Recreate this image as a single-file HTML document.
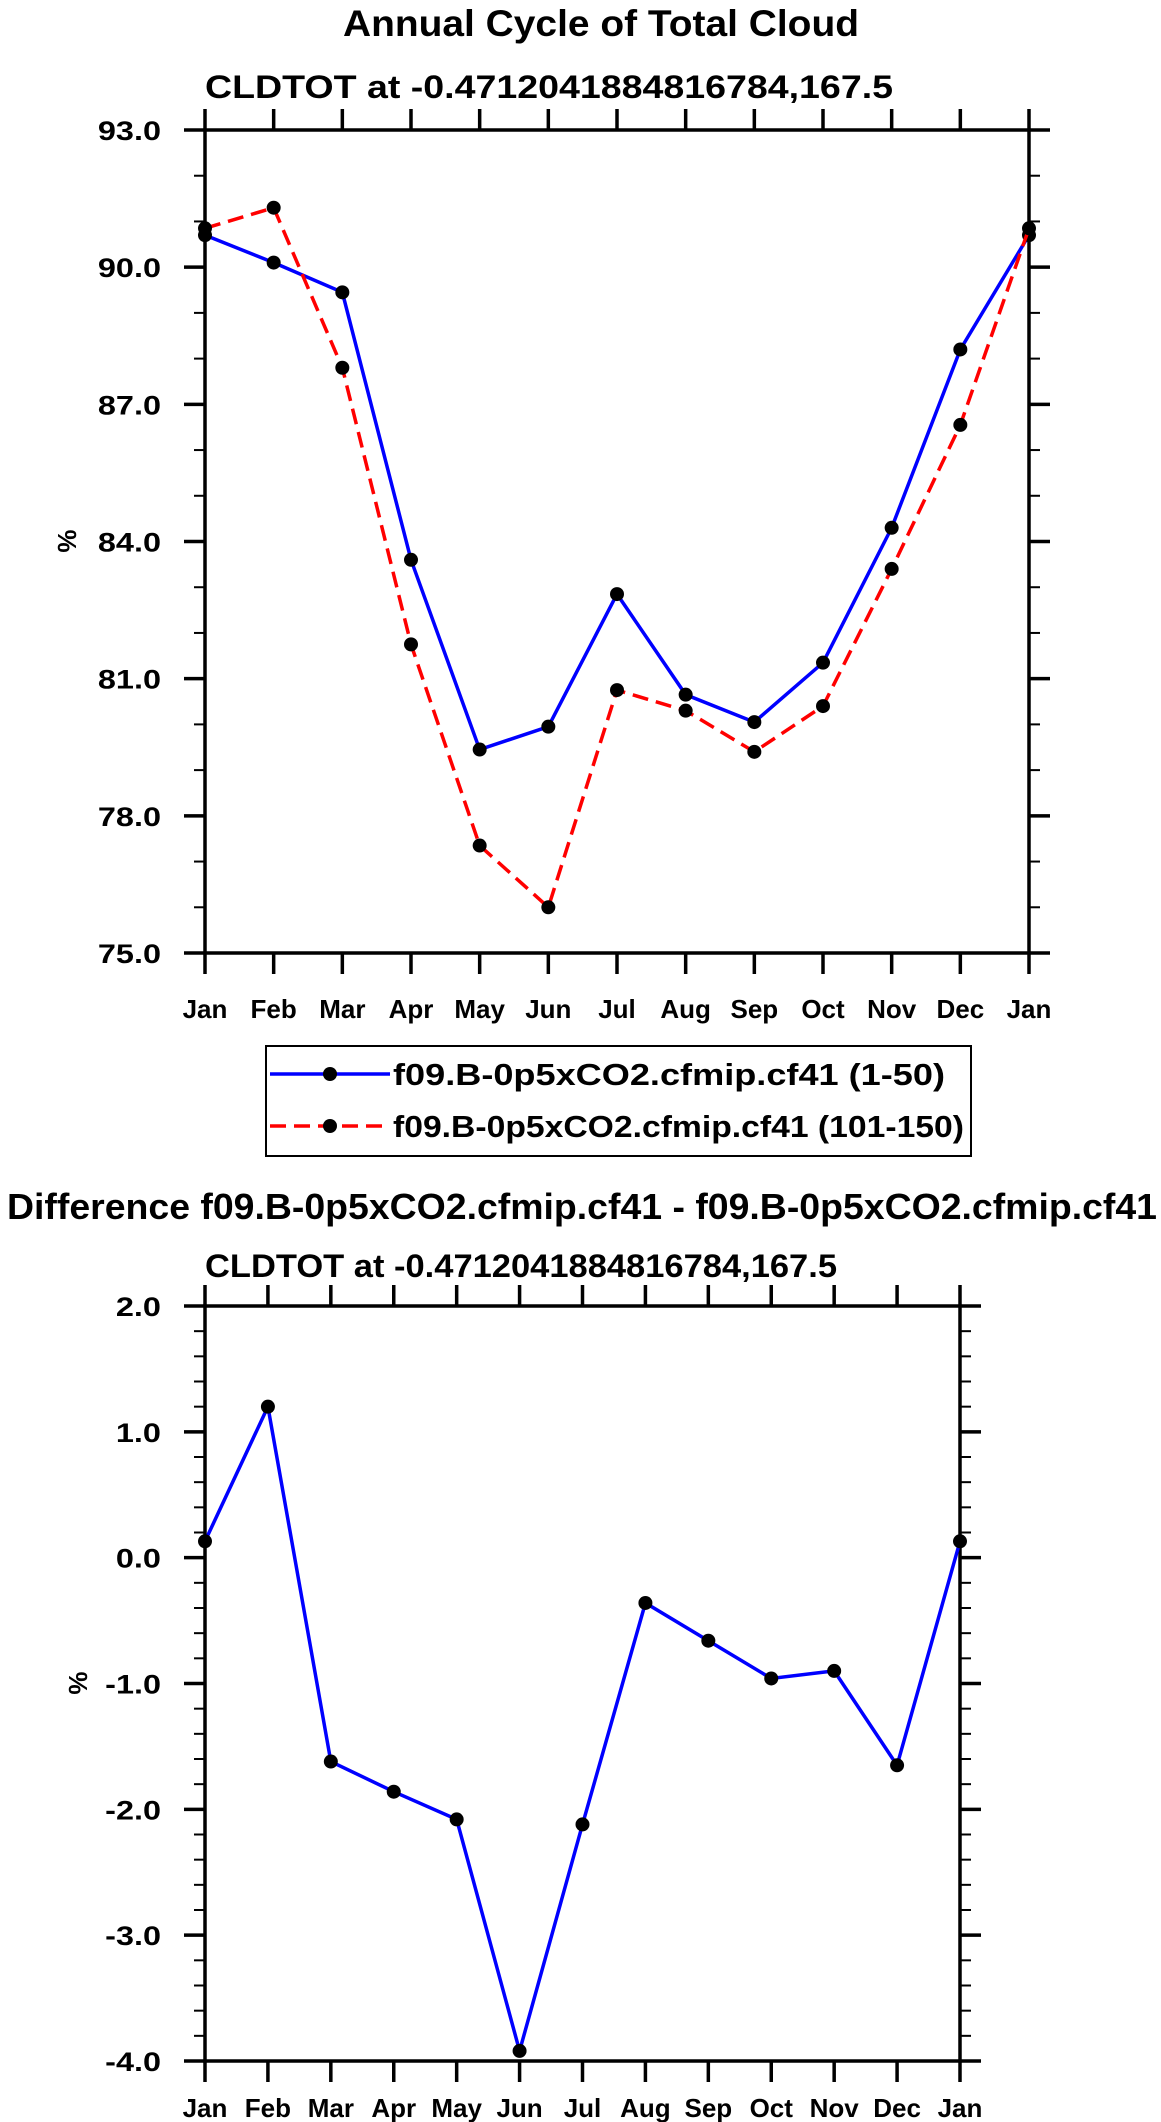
<!DOCTYPE html>
<html><head><meta charset="utf-8">
<style>
html,body{margin:0;padding:0;background:#fff;}
svg{display:block;font-family:"Liberation Sans",sans-serif;font-weight:bold;}
</style></head>
<body>
<svg id="svg" width="1161" height="2122" viewBox="0 0 1161 2122" xmlns="http://www.w3.org/2000/svg">
<text x="601" y="36" font-size="37" text-anchor="middle" textLength="516" lengthAdjust="spacingAndGlyphs">Annual Cycle of Total Cloud</text>
<text x="205" y="98" font-size="32" textLength="688" lengthAdjust="spacingAndGlyphs">CLDTOT at -0.4712041884816784,167.5</text>
<text transform="translate(76,541) rotate(-90)" font-size="26" text-anchor="middle">%</text>
<g id="top"></g>
<g>
<rect x="266" y="1046" width="705" height="110" fill="none" stroke="#000" stroke-width="2"/>
<g>
<line x1="270" y1="1074" x2="390" y2="1074" stroke="#0000ff" stroke-width="3.5"/>
<circle cx="330" cy="1074" r="7" fill="#000"/>
<text x="393" y="1085" font-size="31" textLength="552" lengthAdjust="spacingAndGlyphs">f09.B-0p5xCO2.cfmip.cf41 (1-50)</text>
</g>
<g>
<line x1="270" y1="1126" x2="390" y2="1126" stroke="#ff0000" stroke-width="3.5" stroke-dasharray="16,8"/>
<circle cx="330" cy="1126" r="7" fill="#000"/>
<text x="393" y="1137" font-size="31" textLength="571" lengthAdjust="spacingAndGlyphs">f09.B-0p5xCO2.cfmip.cf41 (101-150)</text>
</g>
</g>
<text x="7" y="1219" font-size="36" textLength="1150" lengthAdjust="spacingAndGlyphs">Difference f09.B-0p5xCO2.cfmip.cf41 - f09.B-0p5xCO2.cfmip.cf41</text>
<text x="205" y="1277" font-size="32" textLength="632" lengthAdjust="spacingAndGlyphs">CLDTOT at -0.4712041884816784,167.5</text>
<text transform="translate(87,1683) rotate(-90)" font-size="26" text-anchor="middle">%</text>
<g id="bot"></g>
</svg>
<script>
const months = ["Jan","Feb","Mar","Apr","May","Jun","Jul","Aug","Sep","Oct","Nov","Dec","Jan"];
const seriesA = [90.7,90.1,89.45,83.6,79.45,79.95,82.85,80.65,80.05,81.35,84.3,88.2,90.7];
const seriesB = [90.85,91.3,87.8,81.75,77.35,76.0,80.75,80.3,79.4,80.4,83.4,86.55,90.85];
const seriesDiff = [0.13,1.2,-1.62,-1.86,-2.08,-3.92,-2.12,-0.36,-0.66,-0.96,-0.9,-1.65,0.13];
const topTicks = ["75.0","78.0","81.0","84.0","87.0","90.0","93.0"];
const botTicks = ["-4.0","-3.0","-2.0","-1.0","0.0","1.0","2.0"];
const NS="http://www.w3.org/2000/svg";
function mk(p,t,a){const e=document.createElementNS(NS,t);for(const k in a)e.setAttribute(k,a[k]);p.appendChild(e);return e;}
function stretch(el,f){const w=el.getComputedTextLength();el.setAttribute("textLength",(w*f).toFixed(1));el.setAttribute("lengthAdjust","spacingAndGlyphs");}
function chart(g,cfg){
  const {L,R,T,B,ymin,ymax,ticks,minor,series}=cfg;
  const xs=i=>L+(R-L)*i/(months.length-1);
  const ys=v=>B-(B-T)*(v-ymin)/(ymax-ymin);
  const frame=mk(g,"rect",{x:L,y:T,width:R-L,height:B-T,fill:"none",stroke:"#000","stroke-width":3.5});
  
  
  for(let v=ymin;v<=ymax+1e-9;v+=minor){
    const y=ys(v);const maj=ticks.some(t=>Math.abs(parseFloat(t)-v)<1e-6);
    const len=maj?21:11;
    mk(g,"line",{x1:L-len,y1:y,x2:L,y2:y,stroke:"#000","stroke-width":maj?3.5:2});
    mk(g,"line",{x1:R,y1:y,x2:R+len,y2:y,stroke:"#000","stroke-width":maj?3.5:2});
  }
  ticks.forEach(t=>{
    const tx=mk(g,"text",{x:L-44,y:ys(parseFloat(t))+10,"font-size":27,"text-anchor":"end"});
    tx.textContent=t;
    
    
    stretch(tx,1.2);
  });
  months.forEach((m,i)=>{
    const x=xs(i);
    mk(g,"line",{x1:x,y1:B,x2:x,y2:B+21,stroke:"#000","stroke-width":3.5});
    mk(g,"line",{x1:x,y1:T-21,x2:x,y2:T,stroke:"#000","stroke-width":3.5});
    const tx=mk(g,"text",{x:x,y:cfg.labY,"font-size":26,"text-anchor":"middle"});
    tx.textContent=m;
    
    
  });
  series.forEach(s=>{
    const pts=s.vals.map((v,i)=>xs(i)+","+ys(v)).join(" ");
    const pl=mk(g,"polyline",{points:pts,fill:"none",stroke:s.color,"stroke-width":3.5,"stroke-dasharray":s.dash||"none"});
    
    
    s.vals.forEach((v,i)=>{
      const c=mk(g,"circle",{cx:xs(i),cy:ys(v),r:7,fill:"#000"});
      
      
    });
  });
}
chart(document.getElementById("top"),{L:205,R:1029,T:130,B:953,ymin:75,ymax:93,ticks:topTicks,minor:1,labY:1018,
  series:[{name:"series-1-50",vals:seriesA,color:"#0000ff"},{name:"series-101-150",vals:seriesB,color:"#ff0000",dash:"16,8"}]});
chart(document.getElementById("bot"),{L:205,R:960,T:1306,B:2061,ymin:-4,ymax:2,ticks:botTicks,minor:0.2,labY:2117,
  series:[{name:"difference",vals:seriesDiff,color:"#0000ff"}]});
</script>
</body></html>
